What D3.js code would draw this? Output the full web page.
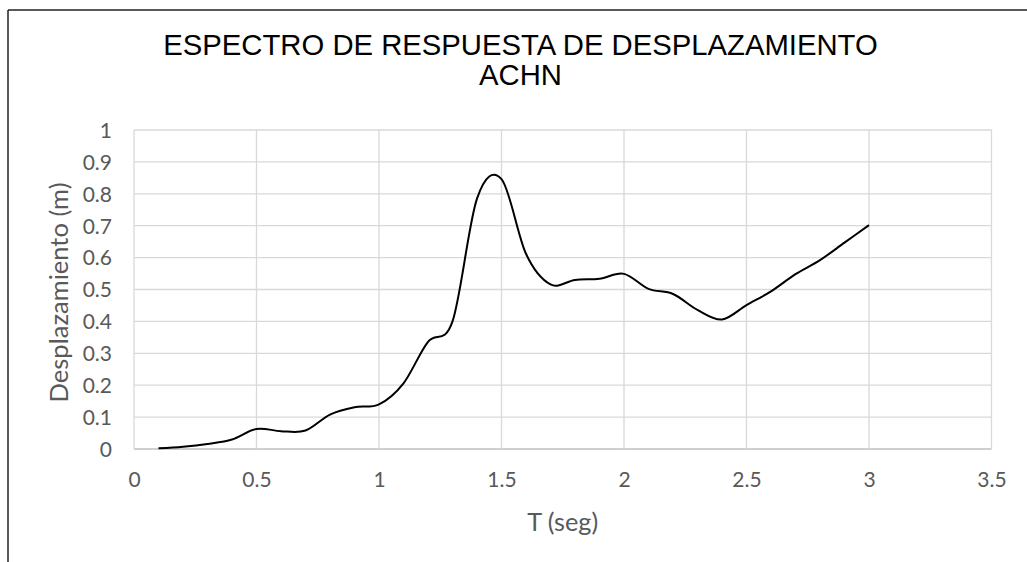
<!DOCTYPE html>
<html>
<head>
<meta charset="utf-8">
<script src="https://cdn.jsdelivr.net/npm/d3@7"></script>
<style>
  html, body { margin: 0; padding: 0; background: #fff; }
  svg { display: block; }
</style>
</head>
<body>
<svg id="chart" width="1027" height="562"></svg>
<script>
// ---- Data ----
const titleLines = ["ESPECTRO DE RESPUESTA DE DESPLAZAMIENTO", "ACHN"];
const xLabel = "T (seg)";
const yLabel = "Desplazamiento (m)";
const periods = [0.1,0.2,0.3,0.4,0.5,0.6,0.7,0.8,0.9,1.0,1.1,1.2,1.3,1.4,1.5,1.6,1.7,1.8,1.9,2.0,2.1,2.2,2.3,2.4,2.5,2.6,2.7,2.8,2.9,3.0];
const displacement = [0.002,0.007,0.016,0.030,0.063,0.056,0.058,0.108,0.131,0.140,0.206,0.336,0.400,0.785,0.846,0.612,0.516,0.530,0.534,0.549,0.502,0.486,0.436,0.406,0.451,0.494,0.548,0.592,0.647,0.702];
const xTicks = [0,0.5,1,1.5,2,2.5,3,3.5];
const yTicks = [0,0.1,0.2,0.3,0.4,0.5,0.6,0.7,0.8,0.9,1];

// ---- Layout ----
const svg = d3.select("#chart");
const plot = {left: 134, right: 991.5, top: 130, bottom: 449};
const x = d3.scaleLinear().domain([0, 3.5]).range([plot.left, plot.right]);
const y = d3.scaleLinear().domain([0, 1]).range([plot.bottom, plot.top]);

// Outer border (partial frame visible in the reference)
svg.append("line").attr("x1", 8).attr("y1", 10).attr("x2", 1027).attr("y2", 10)
  .attr("stroke", "#222").attr("stroke-width", 1.5);
svg.append("line").attr("x1", 8).attr("y1", 10).attr("x2", 8).attr("y2", 562)
  .attr("stroke", "#222").attr("stroke-width", 1.5);

// Gridlines
const grid = svg.append("g");
grid.selectAll("line.h").data(yTicks).join("line")
  .attr("x1", plot.left).attr("x2", plot.right)
  .attr("y1", d => y(d)).attr("y2", d => y(d))
  .attr("stroke", d => d === 0 ? "#bfbfbf" : "#d9d9d9").attr("stroke-width", 1.3);
grid.selectAll("line.v").data(xTicks).join("line")
  .attr("y1", plot.top).attr("y2", plot.bottom)
  .attr("x1", d => x(d)).attr("x2", d => x(d))
  .attr("stroke", "#d9d9d9").attr("stroke-width", 1.3);

// Axes (labels only)
const tickFont = "Lato, 'Open Sans', sans-serif";
const yAxis = svg.append("g").attr("transform", `translate(${plot.left - 22},0)`)
  .call(d3.axisLeft(y).tickValues(yTicks).tickSize(0).tickFormat(d3.format("~g")));
yAxis.select(".domain").remove();
yAxis.selectAll("text").attr("font-family", tickFont).attr("font-size", 21).attr("fill", "#595959")
  .attr("x", 0).attr("dy", "0.35em");

const xAxis = svg.append("g").attr("transform", `translate(0,${plot.bottom})`)
  .call(d3.axisBottom(x).tickValues(xTicks).tickSize(0).tickFormat(d3.format("~g")));
xAxis.select(".domain").remove();
xAxis.selectAll("text").attr("font-family", tickFont).attr("font-size", 21).attr("fill", "#595959")
  .attr("y", 31).attr("dy", "0.35em");

// Curve
const line = d3.line()
  .x((d, i) => x(periods[i]))
  .y(d => y(d))
  .curve(d3.curveCardinal.tension(0));
svg.append("path").datum(displacement)
  .attr("d", line).attr("fill", "none").attr("stroke", "#000").attr("stroke-width", 2)
  .attr("stroke-linejoin", "round");

// Helper: fit text to a target width
function fit(sel, target) {
  const w = sel.node().getComputedTextLength();
  const fs = parseFloat(sel.attr("font-size"));
  sel.attr("font-size", fs * target / w);
}

// Title
const t1 = svg.append("text").text(titleLines[0])
  .attr("x", 520.5).attr("y", 55).attr("text-anchor", "middle")
  .attr("font-family", "'Liberation Sans', Arial, sans-serif").attr("font-size", 28).attr("fill", "#000");
fit(t1, 715);
const t2 = svg.append("text").text(titleLines[1])
  .attr("x", 520.5).attr("y", 85).attr("text-anchor", "middle")
  .attr("font-family", "'Liberation Sans', Arial, sans-serif").attr("font-size", t1.attr("font-size")).attr("fill", "#000");

// Axis titles
const xt = svg.append("text").text(xLabel)
  .attr("x", (plot.left + plot.right) / 2).attr("y", 531).attr("text-anchor", "middle")
  .attr("font-family", tickFont).attr("font-size", 24).attr("fill", "#595959");
fit(xt, 71);
const yt = svg.append("text").text(yLabel)
  .attr("transform", `translate(68,${(plot.top + plot.bottom) / 2 + 3}) rotate(-90)`)
  .attr("text-anchor", "middle")
  .attr("font-family", tickFont).attr("font-size", 24).attr("fill", "#595959");
fit(yt, 220);
</script>
</body>
</html>
